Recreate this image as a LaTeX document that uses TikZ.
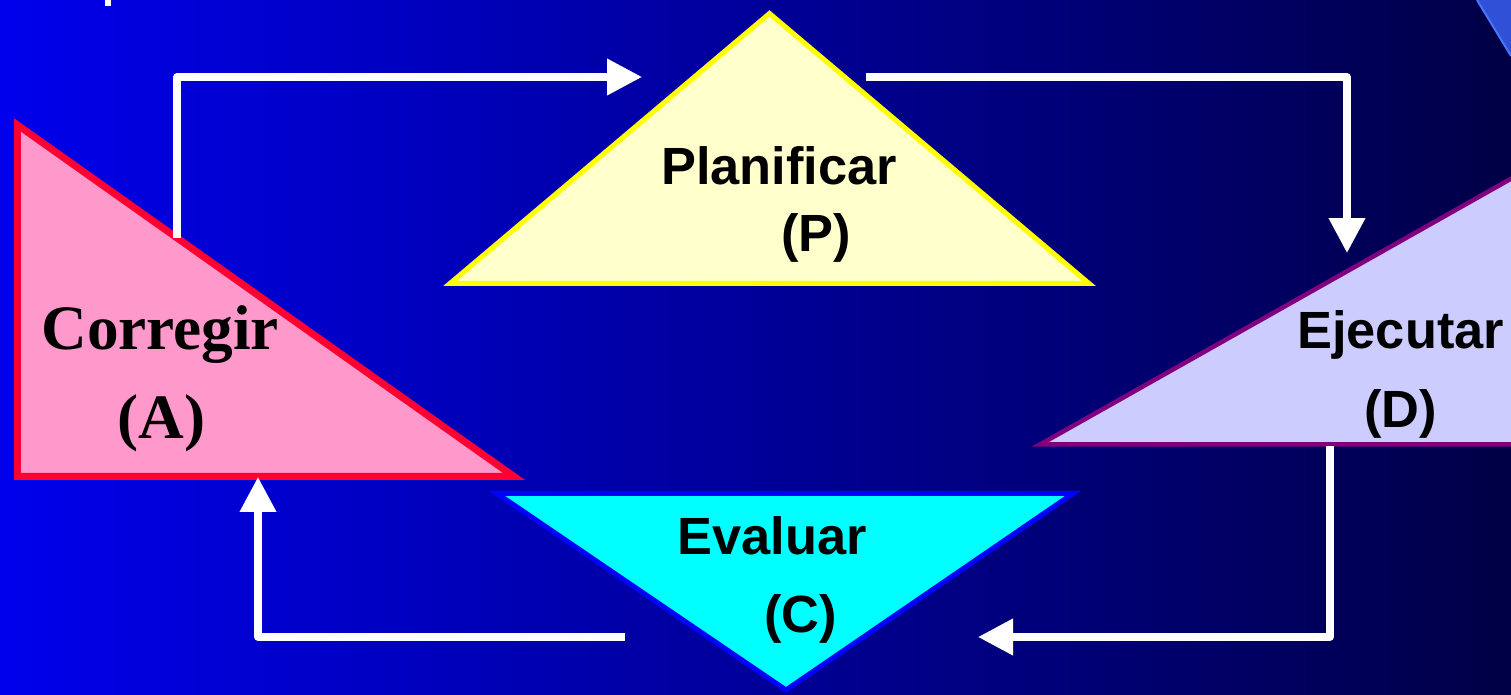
\documentclass[tikz,border=0pt]{standalone}
\usepackage{fontspec}
\setmainfont{Liberation Serif}
\setsansfont{Liberation Sans}
\usepackage{tikz}
\usetikzlibrary{arrows.meta}
\usepackage{xcolor}
\definecolor{bgleft}{RGB}{0,0,236}
\definecolor{bgright}{RGB}{0,0,70}
\definecolor{pinkfill}{RGB}{255,153,204}
\definecolor{redline}{RGB}{255,0,51}
\definecolor{yellowfill}{RGB}{255,255,204}
\definecolor{yellowline}{RGB}{255,255,0}
\definecolor{lavfill}{RGB}{204,204,255}
\definecolor{purpleline}{RGB}{128,0,128}
\definecolor{cyanfill}{RGB}{0,255,255}
\definecolor{blueline}{RGB}{0,0,255}
\definecolor{cornerblue}{RGB}{48,80,216}
\definecolor{corneredge}{RGB}{70,120,255}

\begin{document}
\begin{tikzpicture}[x=0.02cm,y=-0.02cm,>={Triangle[length=0.7cm,width=0.7cm]},
  flowarrow/.style={draw=white,line width=0.145cm,line join=round,->},
  sflabel/.style={inner sep=0pt,anchor=base west,font=\sffamily\bfseries\fontsize{29.8}{35}\selectfont},
  rmlabel/.style={inner sep=0pt,anchor=base west,font=\rmfamily\bfseries\fontsize{36}{42}\selectfont}]
\useasboundingbox (0,0) rectangle (1511,695);
\clip (0,0) rectangle (1511,695);
\shade[left color=bgleft,right color=bgright] (0,0) rectangle (1511,695);
\fill[white] (105,0) rectangle (111,6);
\fill[cornerblue] (1477,0) -- (1511,56) -- (1511,0) -- cycle;
\draw[corneredge,line width=0.04cm] (1477,0) -- (1511,56);
\draw[redline,fill=pinkfill,line width=0.14cm] (17.5,125) -- (17.5,476.5) -- (514,476.5) -- cycle;
\draw[yellowline,fill=yellowfill,line width=0.1cm] (769.5,13.5) -- (1089,283.5) -- (450,283.5) -- cycle;
\draw[purpleline,fill=lavfill,line width=0.09cm] (1040,444.5) -- (1600,128.5) -- (1600,444.5) -- cycle;
\draw[blueline,fill=cyanfill,line width=0.1cm] (497,493.5) -- (1073,493.5) -- (786,690) -- cycle;
\node[rmlabel] (corr) at (41,350) {Corregir};
\node[rmlabel] (corrA) at (117,439) {(A)};
\node[sflabel] (plan) at (661,185) {Planificar};
\node[sflabel] (planP) at (781,252) {(P)};
\node[sflabel] (ejec) at (1297,349) {Ejecutar};
\node[sflabel] (ejecD) at (1364,428) {(D)};
\node[sflabel] (eval) at (677,555) {Evaluar};
\node[sflabel] (evalC) at (764,632) {(C)};
\coordinate (aOut) at (177,238);
\coordinate (pIn) at (642,77);
\coordinate (pOut) at (866,77);
\coordinate (dIn) at (1347,253);
\coordinate (dOut) at (1330,446);
\coordinate (cIn) at (978,637);
\coordinate (cOut) at (625,637);
\coordinate (aIn) at (258,477);
\draw[flowarrow] (aOut) |- (pIn);
\draw[flowarrow] (pOut) -| (dIn);
\draw[flowarrow] (dOut) |- (cIn);
\draw[flowarrow] (cOut) -| (aIn);
\end{tikzpicture}
\end{document}
